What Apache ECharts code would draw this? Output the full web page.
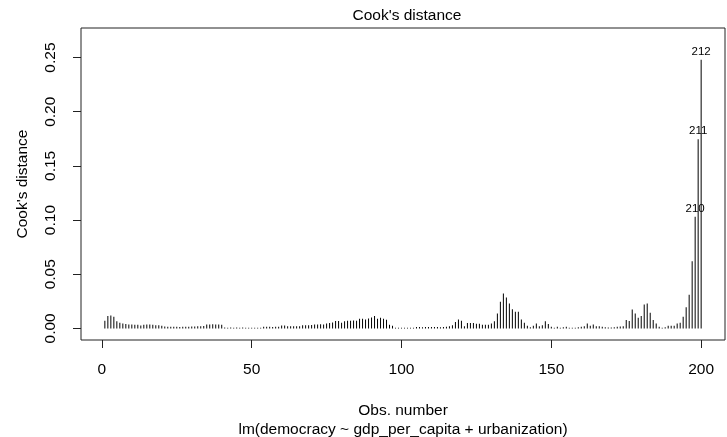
<!DOCTYPE html>
<html>
<head>
<meta charset="utf-8">
<title>Cook's distance</title>
<script src="https://cdn.jsdelivr.net/npm/echarts@6/dist/echarts.min.js"></script>
<style>
  html, body { margin: 0; padding: 0; background: #fff; }
  #chart { width: 727px; height: 437px; }
</style>
</head>
<body>
<div id="chart"></div>
<script>
// Cook's distance for observations 1..200
const cookD = [
  0.0071, 0.0114, 0.012, 0.0108, 0.0065, 0.0052, 0.0046, 0.004, 0.0037, 0.0037,
  0.0034, 0.0034, 0.0028, 0.0034, 0.0037, 0.0037, 0.0034, 0.003, 0.003, 0.0025,
  0.0018, 0.0015, 0.0015, 0.0016, 0.0015, 0.0014, 0.0015, 0.0016, 0.0015, 0.0017,
  0.0018, 0.0019, 0.002, 0.0022, 0.0037, 0.0035, 0.0038, 0.0037, 0.0036, 0.0033,
  0.0008, 0.0007, 0.0008, 0.0007, 0.0008, 0.0007, 0.0008, 0.0006, 0.0006, 0.0006,
  0.0006, 0.0006, 0.0006, 0.0015, 0.0016, 0.0015, 0.0014, 0.0015, 0.0016, 0.0028,
  0.0028, 0.002, 0.0019, 0.002, 0.0021, 0.002, 0.003, 0.0029, 0.003, 0.0031,
  0.0037, 0.0036, 0.0038, 0.0037, 0.0046, 0.005, 0.0055, 0.0068, 0.0068, 0.0052,
  0.0065, 0.0071, 0.0071, 0.0072, 0.0071, 0.009, 0.009, 0.0083, 0.0092, 0.0101,
  0.0114, 0.009, 0.0098, 0.009, 0.008, 0.0034, 0.0025, 0.0006, 0.0006, 0.0005,
  0.0006, 0.0006, 0.0005, 0.0006, 0.0012, 0.0012, 0.0011, 0.0012, 0.0012, 0.0013,
  0.0012, 0.0012, 0.0011, 0.0012, 0.0015, 0.002, 0.003, 0.006, 0.0083, 0.007,
  0.002, 0.005, 0.005, 0.005, 0.0043, 0.0043, 0.0034, 0.0034, 0.0034, 0.0046,
  0.0065, 0.0138, 0.0246, 0.0323, 0.0286, 0.023, 0.0178, 0.0154, 0.0154, 0.0083,
  0.0052, 0.0025, 0.001, 0.0025, 0.0046, 0.002, 0.003, 0.0065, 0.004, 0.0015,
  0.0005, 0.0015, 0.0005, 0.001, 0.0015, 0.0005, 0.0005, 0.0005, 0.001, 0.0015,
  0.002, 0.0046, 0.0025, 0.0035, 0.002, 0.002, 0.0015, 0.001, 0.0008, 0.0008,
  0.001, 0.0015, 0.0018, 0.002, 0.0077, 0.0068, 0.0175, 0.0138, 0.0098, 0.0114,
  0.0221, 0.023, 0.0144, 0.0077, 0.0046, 0.0015, 0.0006, 0.001, 0.0025, 0.0025,
  0.0025, 0.0046, 0.0052, 0.0108, 0.0195, 0.031, 0.062, 0.103, 0.1747, 0.248
];

// row names shown above the three largest values (obs number -> label)
const idObs = [198, 199, 200];
const idLabels = ['210', '211', '212'];

const xTicks = [0, 50, 100, 150, 200];
const yTicks = [0, 0.05, 0.1, 0.15, 0.2, 0.25];

const FONT = 'Liberation Sans, Arial, sans-serif';
const INK = '#000';

const barData = cookD.map(function (v, i) {
  const obs = i + 1;
  const k = idObs.indexOf(obs);
  if (k < 0) return [obs, v];
  return {
    value: [obs, v],
    label: {
      show: true,
      position: 'top',
      distance: 2,
      formatter: idLabels[k],
      fontFamily: FONT,
      fontSize: 11.5,
      color: INK
    }
  };
});

const option = {
  animation: false,
  backgroundColor: '#fff',
  title: {
    text: "Cook's distance",
    left: 402,
    top: 3,
    textAlign: 'center',
    textStyle: { fontFamily: FONT, fontSize: 15.5, fontWeight: 'normal', color: INK }
  },
  grid: {
    left: 81,
    right: 2,
    top: 28,
    bottom: 97,
    outerBoundsMode: 'none',
    containLabel: false,
    show: true,
    borderColor: '#222',
    borderWidth: 1,
    backgroundColor: 'transparent'
  },
  xAxis: {
    type: 'value',
    min: -6.96,
    max: 207.96,
    splitLine: { show: false },
    axisLine: { show: false, onZero: false },
    axisTick: {
      show: true,
      customValues: xTicks,
      length: 8,
      lineStyle: { color: '#222' }
    },
    axisLabel: {
      customValues: xTicks,
      margin: 22,
      fontFamily: FONT,
      fontSize: 15.5,
      color: INK
    },
    name: 'Obs. number\nlm(democracy ~ gdp_per_capita + urbanization)',
    nameLocation: 'middle',
    nameGap: 61,
    nameTextStyle: { fontFamily: FONT, fontSize: 15.5, color: INK, lineHeight: 19 }
  },
  yAxis: {
    type: 'value',
    min: -0.0107,
    max: 0.2773,
    splitLine: { show: false },
    axisLine: { show: false, onZero: false },
    axisTick: {
      show: true,
      customValues: yTicks,
      length: 8,
      lineStyle: { color: '#222' }
    },
    axisLabel: {
      customValues: yTicks,
      rotate: 90,
      margin: 22,
      fontFamily: FONT,
      fontSize: 15.5,
      color: INK,
      formatter: function (v) { return v.toFixed(2); }
    },
    name: "Cook's distance",
    nameLocation: 'middle',
    nameRotate: 90,
    nameGap: 50,
    nameTextStyle: { fontFamily: FONT, fontSize: 15.5, color: INK }
  },
  series: [
    {
      type: 'bar',
      barWidth: 1,
      itemStyle: { color: INK },
      data: barData
    }
  ]
};

const myChart = echarts.init(document.getElementById('chart'));
myChart.setOption(option);
</script>
</body>
</html>
